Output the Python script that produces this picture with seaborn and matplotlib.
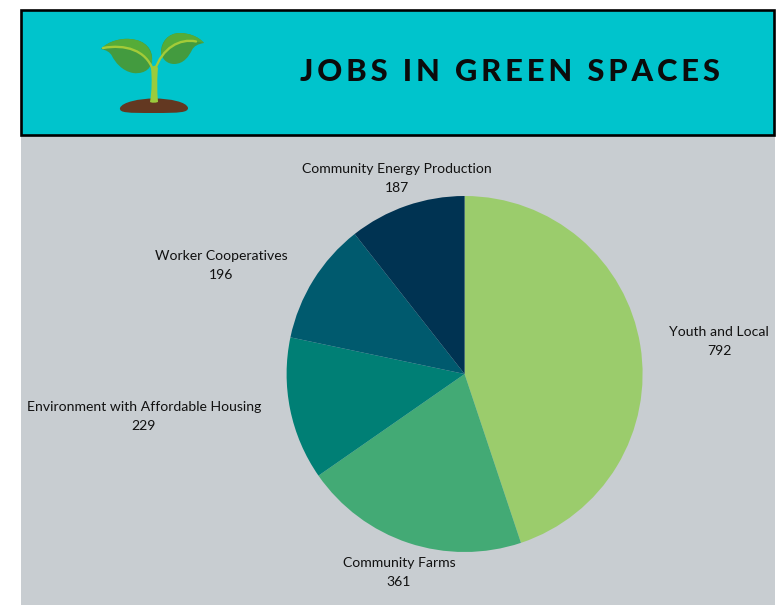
import matplotlib
matplotlib.use("Agg")
import matplotlib.pyplot as plt
from matplotlib.patches import PathPatch, Rectangle
from matplotlib.path import Path
import seaborn as sns

categories = ["Youth and Local", "Community Farms", "Environment with Affordable Housing",
              "Worker Cooperatives", "Community Energy Production"]
jobs = [792, 361, 229, 196, 187]
slice_colors = ["#9BCC6C", "#43AA75", "#007F75", "#005A6E", "#003352"]
label_anchors = [(719, 340), (399, 571), (144, 415), (221, 264), (397, 177)]
title = "JOBS IN GREEN SPACES"

W, H = 778, 605
sns.set_theme(style="white")
plt.rcParams["font.family"] = ["Lato", "DejaVu Sans"]

fig = plt.figure(figsize=(W / 100, H / 100), dpi=100, facecolor="white")

# Page-level canvas in pixel units, y pointing down
page = fig.add_axes([0, 0, 1, 1], zorder=0)
page.set_xlim(0, W)
page.set_ylim(H, 0)
page.axis("off")
page.add_patch(Rectangle((21, 135), 754, 470, fc="#C8CDD1", ec="none"))
page.add_patch(Rectangle((21.5, 10.4), 752.5, 124.3, fc="#00C4CC", ec="black", lw=1.9))


def blob(verts, color, z=2):
    codes = [Path.MOVETO] + [Path.CURVE4] * (len(verts) - 1)
    page.add_patch(PathPatch(Path(verts, codes), fc=color, ec="none", zorder=z))


def stroke(verts, color, lw, z=4):
    codes = [Path.MOVETO] + [Path.CURVE4] * (len(verts) - 1)
    page.add_patch(PathPatch(Path(verts, codes), fc="none", ec=color, lw=lw, zorder=z,
                             capstyle="round"))


# Sprout icon: soil, two leaves, stem and veins
blob([(120, 108), (122, 102), (140, 98.5), (154, 98.5), (170, 98.5), (187, 102), (188, 108),
      (188, 112.5), (180, 113), (154, 113), (128, 113), (119, 113), (120, 108)], "#633821")
blob([(101, 49), (108, 41), (122, 38), (130, 39), (146, 40), (153, 50), (152, 60),
      (151, 72), (140, 74), (133, 73), (122, 71), (115, 62), (112, 56),
      (110, 52), (106, 50), (101, 49)], "#439B3F")
blob([(101, 49), (108, 41), (122, 38), (130, 39), (146, 40), (153, 50), (152, 64),
      (146, 52), (125, 43), (101, 49)], "#55AC38", z=3)
blob([(204, 43), (198, 36), (188, 33), (180, 33), (168, 33), (161, 42), (161, 52),
      (162, 60), (168, 64), (174, 64), (184, 64), (189, 56), (192, 50),
      (194, 46), (198, 44), (204, 43)], "#439B3F")
blob([(204, 43), (198, 36), (188, 33), (180, 33), (168, 33), (161, 42), (161, 55),
      (168, 46), (184, 38), (204, 43)], "#55AC38", z=3)
stroke([(103, 48), (125, 44), (146, 50), (153, 70)], "#A3CB38", 1.7)
stroke([(196, 41.5), (180, 38), (162, 48), (155, 70)], "#A3CB38", 1.7)
blob([(150, 102), (152, 90), (152, 78), (151, 68), (154, 65), (156, 65), (158, 68),
      (157, 78), (157, 90), (158, 102), (155, 103), (152, 103), (150, 102)], "#9BCB3C", z=5)

page.text(300, 72, "\u2009".join(title), fontsize=22.2, fontweight="black", color="#0B0B0B",
          ha="left", va="center")

# Pie: axes box spans the pie's diameter so radius 1 equals 178 px
cx, cy, r = 464.6, 374, 178
pie_ax = fig.add_axes([(cx - r) / W, 1 - (cy + r) / H, 2 * r / W, 2 * r / H], zorder=1)
pie_ax.pie(jobs, colors=sns.color_palette(slice_colors), startangle=90, counterclock=False,
           radius=1, wedgeprops={"linewidth": 0})
pie_ax.set_xlim(-1, 1)
pie_ax.set_ylim(-1, 1)
pie_ax.patch.set_alpha(0)

# Name and value are placed on separate baselines so the line gap stays constant
for name, value, (x, y) in zip(categories, jobs, label_anchors):
    for line, offset in ((name, -4), (str(value), 15)):
        page.text(x, y + offset, line, ha="center", va="baseline", fontsize=10.05,
                  color="#111111", zorder=6)

fig.savefig("out.png", dpi=100)
